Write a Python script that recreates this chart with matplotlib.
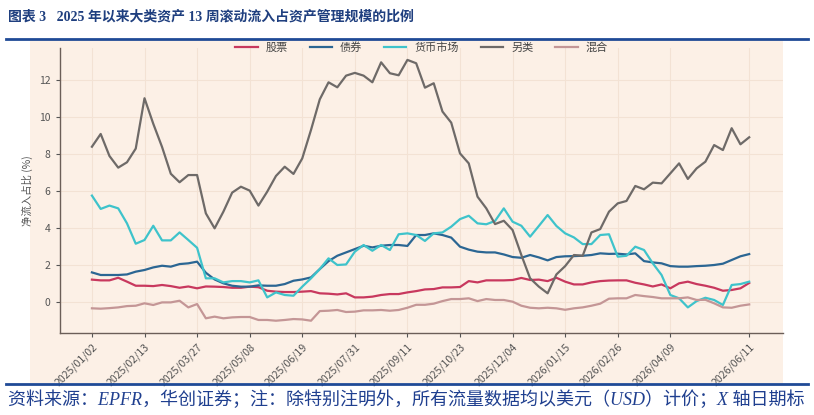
import numpy as np
import pandas as pd
import matplotlib
matplotlib.use("Agg")
import matplotlib.pyplot as plt
from matplotlib.patches import Rectangle
from matplotlib.lines import Line2D

plt.rcParams['font.family'] = ['Noto Sans CJK SC', 'DejaVu Sans']

# weekly dates, 2025/01/02 .. 2026/06/11
dates = pd.date_range('2025-01-02', '2026-06-11', freq='7D')

tick_labels = ['2025/01/02', '2025/02/13', '2025/03/27', '2025/05/08', '2025/06/19',
               '2025/07/31', '2025/09/11', '2025/10/23', '2025/12/04', '2026/01/15',
               '2026/02/26', '2026/04/09', '2026/06/11']

equity = [1.23, 1.19, 1.19, 1.33, 1.12, 0.90, 0.90, 0.88, 0.94, 0.88,
          0.79, 0.86, 0.76, 0.86, 0.85, 0.83, 0.79, 0.79, 0.85, 0.82,
          0.63, 0.58, 0.56, 0.56, 0.58, 0.61, 0.49, 0.47, 0.43, 0.49,
          0.27, 0.27, 0.31, 0.40, 0.45, 0.45, 0.54, 0.61, 0.70, 0.72,
          0.81, 0.81, 0.83, 1.15, 1.08, 1.19, 1.19, 1.19, 1.21, 1.32,
          1.21, 1.23, 1.15, 1.33, 1.12, 0.97, 0.97, 1.08, 1.15, 1.18,
          1.19, 1.19, 1.06, 0.97, 0.86, 0.97, 0.76, 1.03, 1.12, 0.99,
          0.90, 0.79, 0.63, 0.67, 0.76, 1.05]

bond = [1.62, 1.48, 1.48, 1.48, 1.51, 1.66, 1.75, 1.89, 1.98, 1.93,
        2.07, 2.11, 2.20, 1.60, 1.24, 1.03, 0.90, 0.85, 0.85, 0.92,
        0.90, 0.90, 0.99, 1.17, 1.24, 1.35, 1.80, 2.23, 2.52, 2.70,
        2.88, 3.06, 2.97, 3.06, 3.10, 3.10, 3.05, 3.64, 3.64, 3.73,
        3.64, 3.50, 3.01, 2.85, 2.74, 2.70, 2.70, 2.59, 2.45, 2.41,
        2.56, 2.43, 2.27, 2.45, 2.49, 2.50, 2.52, 2.56, 2.65, 2.62,
        2.63, 2.59, 2.65, 2.23, 2.16, 2.11, 1.96, 1.93, 1.93, 1.96,
        1.98, 2.02, 2.09, 2.29, 2.49, 2.61]

money_market = [5.77, 5.05, 5.23, 5.08, 4.27, 3.17, 3.37, 4.14, 3.35, 3.35,
                3.78, 3.37, 2.95, 1.30, 1.30, 1.08, 1.15, 1.15, 1.08, 1.19,
                0.27, 0.54, 0.40, 0.36, 0.85, 1.30, 1.80, 2.38, 2.02, 2.05,
                2.74, 3.10, 2.79, 3.10, 2.83, 3.68, 3.73, 3.64, 3.32, 3.73,
                3.78, 4.09, 4.50, 4.68, 4.27, 4.22, 4.40, 5.08, 4.36, 4.14,
                3.55, 4.13, 4.72, 4.13, 3.73, 3.51, 3.15, 3.15, 3.64, 3.68,
                2.47, 2.52, 3.01, 2.83, 2.11, 1.48, 0.40, 0.22, -0.27, 0.07,
                0.25, 0.13, -0.14, 0.94, 0.99, 1.12]

alternative = [8.41, 9.10, 7.91, 7.28, 7.57, 8.31, 11.03, 9.65, 8.40, 6.95,
               6.49, 6.88, 6.88, 4.81, 4.00, 4.90, 5.93, 6.25, 6.04, 5.23,
               5.98, 6.83, 7.33, 6.94, 7.78, 9.32, 10.97, 11.89, 11.62, 12.25,
               12.40, 12.25, 11.89, 12.97, 12.38, 12.27, 13.10, 12.92, 11.60, 11.84,
               10.31, 9.71, 8.05, 7.51, 5.71, 5.08, 4.23, 4.41, 3.91, 2.56,
               1.30, 0.85, 0.49, 1.51, 1.96, 2.56, 2.52, 3.78, 3.96, 4.90,
               5.35, 5.48, 6.29, 6.11, 6.47, 6.43, 6.97, 7.51, 6.67, 7.24,
               7.60, 8.50, 8.23, 9.41, 8.54, 8.92]

mixed = [-0.32, -0.34, -0.31, -0.27, -0.20, -0.18, -0.05, -0.14, 0.00, 0.00,
         0.09, -0.27, -0.09, -0.86, -0.77, -0.86, -0.81, -0.79, -0.79, -0.95,
         -0.95, -0.99, -0.95, -0.90, -0.92, -0.99, -0.47, -0.45, -0.41, -0.52,
         -0.50, -0.43, -0.43, -0.41, -0.45, -0.41, -0.29, -0.13, -0.13, -0.07,
         0.07, 0.18, 0.18, 0.22, 0.07, 0.18, 0.13, 0.13, 0.04, -0.18,
         -0.29, -0.32, -0.29, -0.32, -0.40, -0.32, -0.27, -0.18, -0.07, 0.20,
         0.22, 0.22, 0.40, 0.34, 0.29, 0.22, 0.22, 0.22, 0.27, 0.13,
         0.14, -0.05, -0.27, -0.29, -0.18, -0.11]

series = [
    ('股票', equity, '#C8385E'),
    ('债券', bond, '#2B6693'),
    ('货币市场', money_market, '#3EC3CB'),
    ('另类', alternative, '#6E6A68'),
    ('混合', mixed, '#C49696'),
]

navy = '#1F4A96'
peach = '#FCF0E6'

fig = plt.figure(figsize=(8.14, 4.15), dpi=100)
fig.patch.set_facecolor('white')

# peach panel behind the chart (includes tick labels)
fig.add_artist(Rectangle((30 / 814, 1 - 383 / 415), 753 / 814, 343 / 415,
                         transform=fig.transFigure, facecolor=peach,
                         edgecolor='none', zorder=0))
# blue rules above and below
for yy in (1 - 39 / 415, 1 - 384 / 415):
    fig.add_artist(Line2D([6 / 814, 808 / 814], [yy, yy], transform=fig.transFigure,
                          color=navy, lw=2.0, zorder=1))

ax = fig.add_axes([60 / 814, 1 - 333.3 / 415, 723 / 814, (333.3 - 47.7) / 415])
ax.set_facecolor(peach)

for name, vals, col in series:
    ax.plot(dates, vals, color=col, lw=1.6, label=name)

ax.set_ylim(-1.67, 13.76)
ax.set_yticks(np.arange(0, 13, 2))
ax.set_xlim(dates[0] - pd.Timedelta(days=25.5), dates[0] + pd.Timedelta(days=552))

tick_dates = pd.to_datetime(tick_labels, format='%Y/%m/%d')
ax.set_xticks(tick_dates)
ax.set_xticklabels(tick_labels, rotation=45, ha='right', rotation_mode='anchor')

for s in ('top', 'right'):
    ax.spines[s].set_visible(False)
for s in ('left', 'bottom'):
    ax.spines[s].set_color('#6B5E58')
    ax.spines[s].set_linewidth(1.0)

ax.tick_params(axis='both', colors='#555555', length=3, width=0.8)
ax.tick_params(axis='y', labelsize=7.5, pad=4)
ax.tick_params(axis='x', labelsize=7.6, pad=3)
ax.grid(True, color='#F3E2D4', lw=0.8)
ax.set_axisbelow(True)

ax.set_ylabel('净流入占比 (%)', fontsize=7.5, color='#555555')
ax.yaxis.set_label_coords(-0.037, 0.5)

leg = ax.legend(loc='center', bbox_to_anchor=(0.5, 1.0), ncol=5, frameon=False,
                fontsize=8, handlelength=2.0, handletextpad=0.7, columnspacing=2.0)
for t in leg.get_texts():
    t.set_color('#444444')

fig.text(8 / 814, 1 - 17 / 415, '图表 3   2025 年以来大类资产 13 周滚动流入占资产管理规模的比例',
         fontsize=10, fontweight='bold', color='#1F3F7F', va='center', ha='left',
         family=['Liberation Serif', 'Noto Sans CJK SC'])

fig.text(8 / 814, 1 - 400 / 415,
         '资料来源：EPFR，华创证券；注：除特别注明外，所有流量数据均以美元（USD）计价；X 轴日期标',
         fontsize=13, style='italic', color='#1F3F8F', va='center', ha='left',
         family=['Liberation Serif', 'Noto Sans CJK SC'])

fig.savefig('out.png', dpi=100)
